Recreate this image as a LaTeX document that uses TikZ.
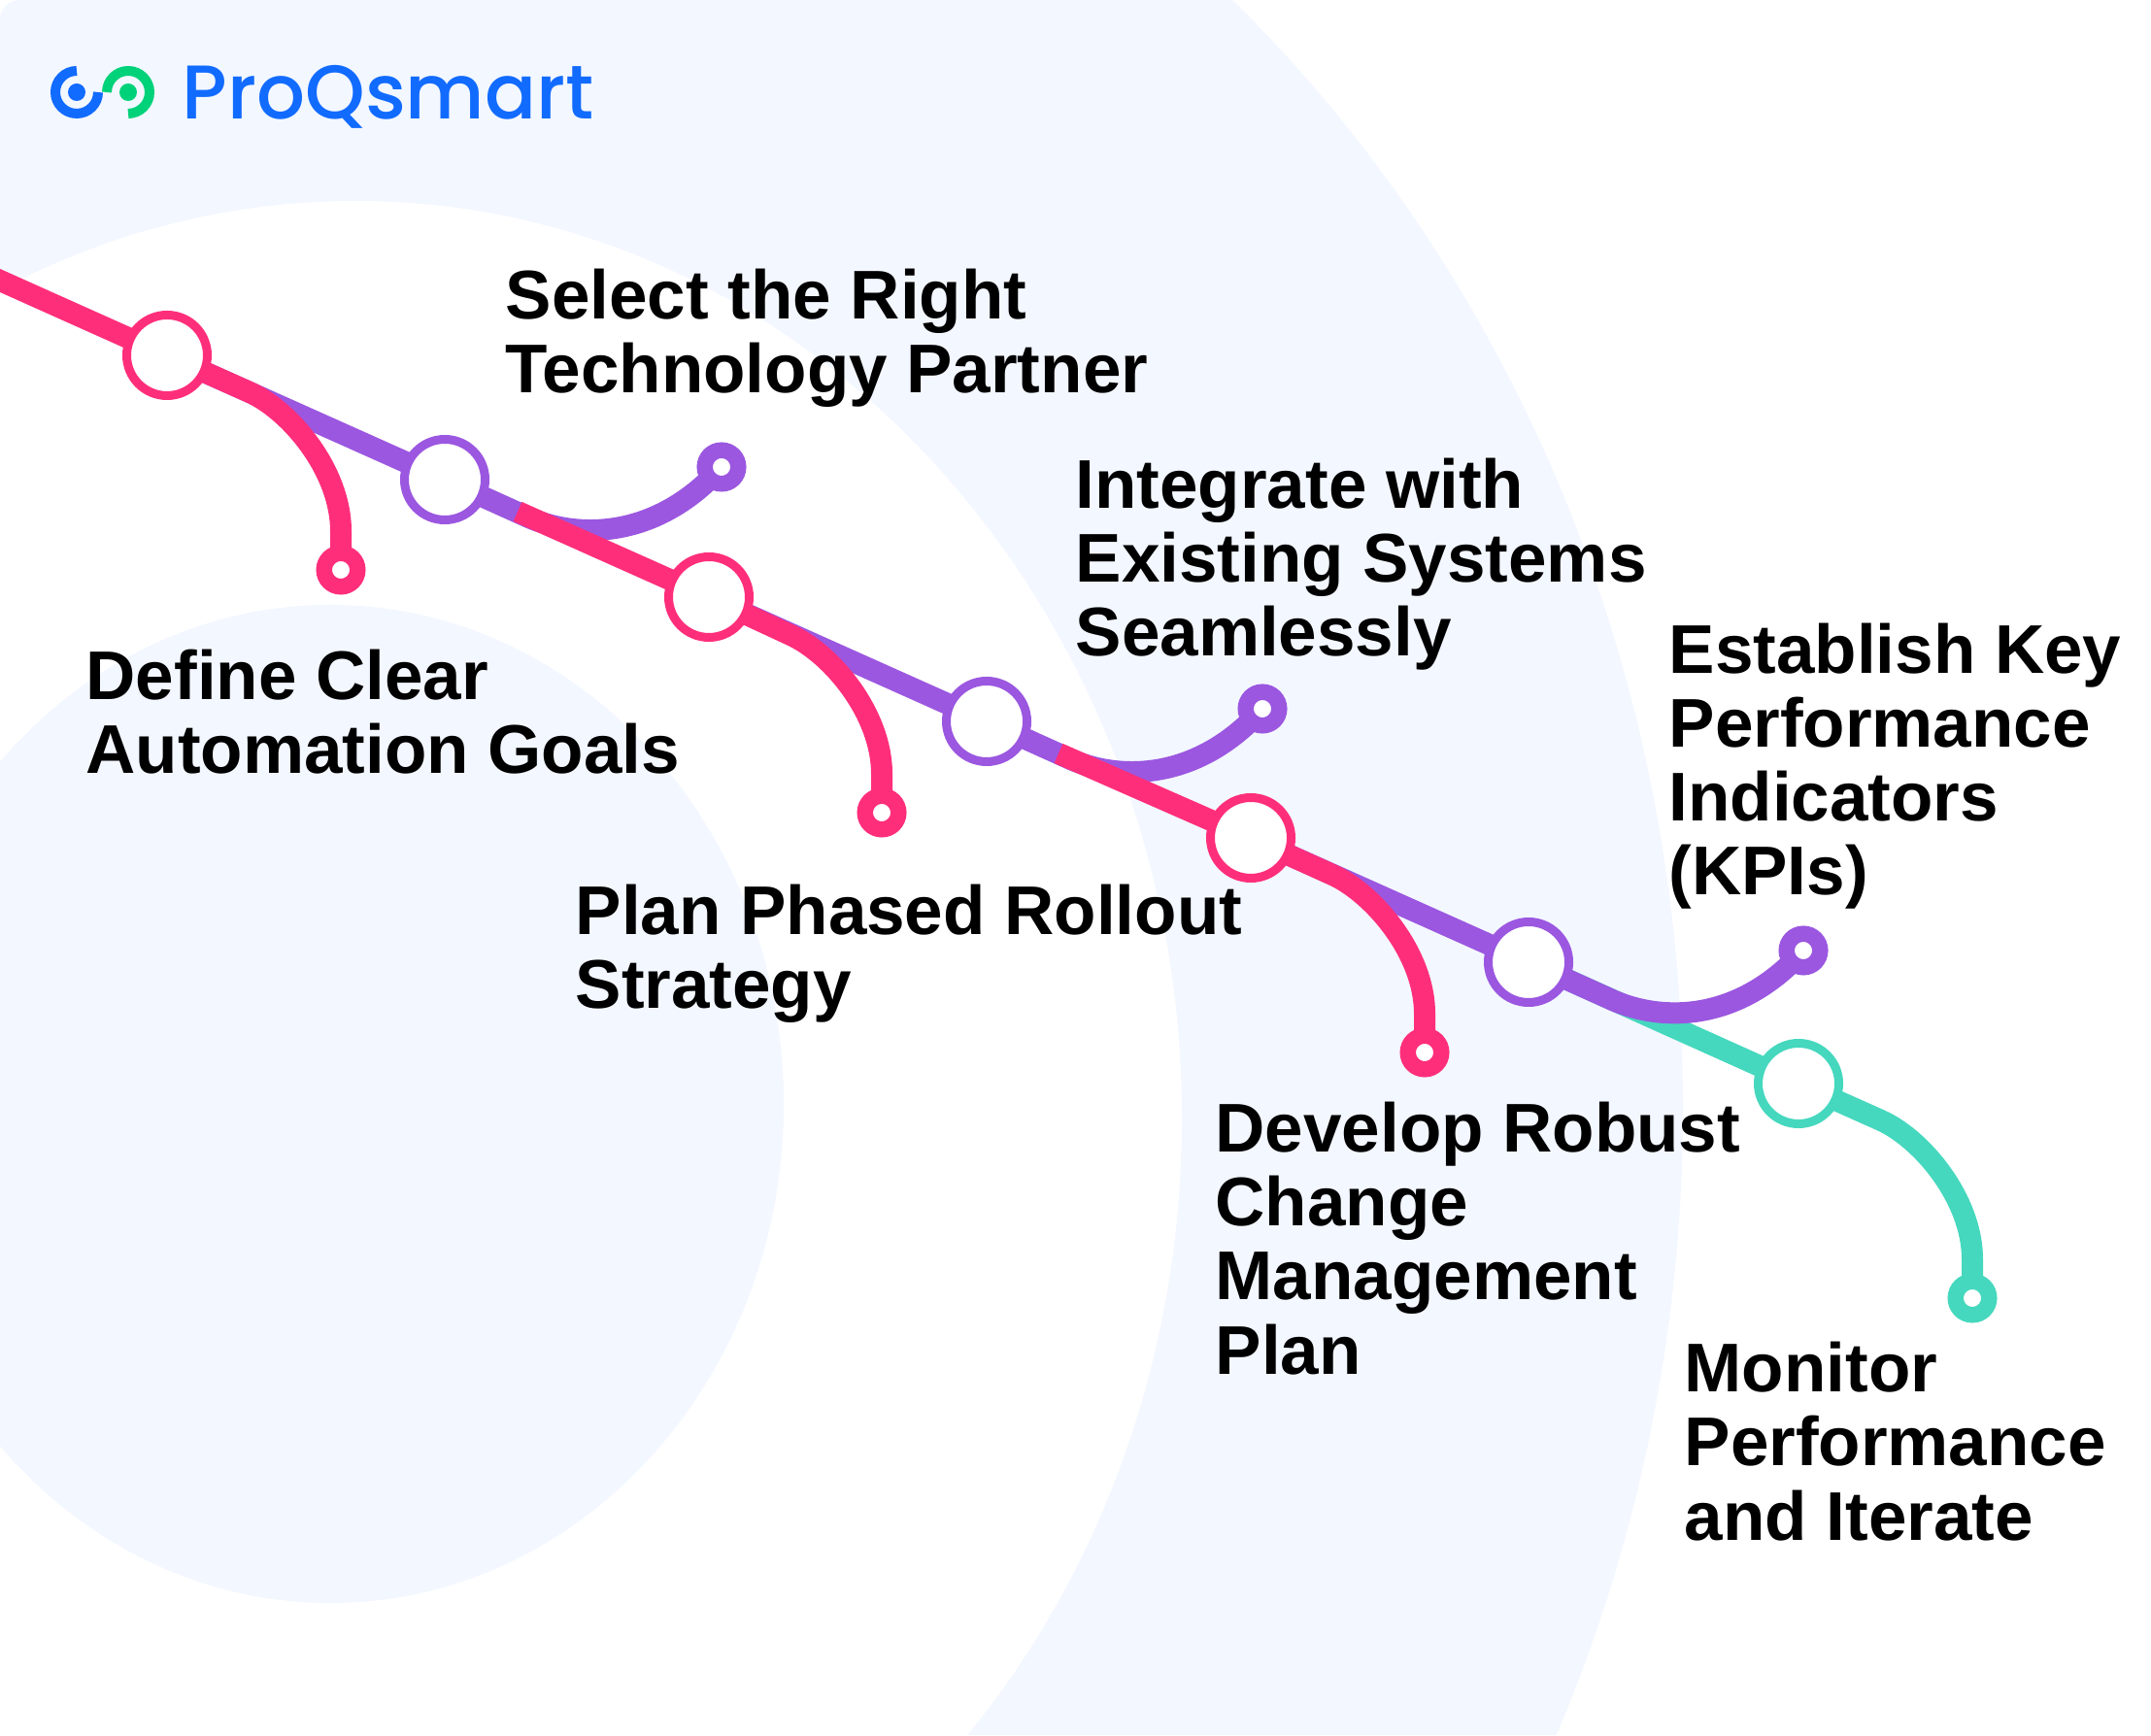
\documentclass[tikz,border=0pt]{standalone}
\usepackage{fontspec}
\setmainfont{Liberation Sans}
\newfontfamily\logofont{Poppins Medium}
\usetikzlibrary{backgrounds}
\definecolor{panelBlue}{HTML}{F3F7FF}
\definecolor{stepPink}{HTML}{FF2E7B}
\definecolor{stepPurple}{HTML}{9B57E0}
\definecolor{stepTeal}{HTML}{45D8BE}
\definecolor{logoBlue}{HTML}{116BFF}
\definecolor{logoGreen}{HTML}{00D27A}
\tikzset{
  pinkline/.style={draw=stepPink,line width=0.22cm},
  purpleline/.style={draw=stepPurple,line width=0.22cm},
  tealline/.style={draw=stepTeal,line width=0.22cm},
  stepnode/.style={circle,draw,fill=white,line width=0.09cm,minimum size=0.83cm,inner sep=0pt},
  endnode/.style={circle,draw,fill=white,line width=0.165cm,minimum size=0.345cm,inner sep=0pt},
  steplabel/.style={anchor=base west,align=left,inner sep=0pt,
    font=\bfseries\fontsize{20.2pt}{21.7pt}\selectfont},
}
\begin{document}
\begin{tikzpicture}
            \useasboundingbox (0,0) rectangle (22.15,17.87);

            % Marking the steps by circles
            \node [stepnode,draw=stepPink] (step1) at (1.72,14.21) {};%
            \node [stepnode,draw=stepPurple] (step2) at (4.58,12.93) {};%
            \node [stepnode,draw=stepPink] (step3) at (7.30,11.72) {};%
            \node [stepnode,draw=stepPurple] (step4) at (10.16,10.44) {};%
            \node [stepnode,draw=stepPink] (step5) at (12.88,9.24) {};%
            \node [stepnode,draw=stepPurple] (step6) at (15.74,7.96) {};%
            \node [stepnode,draw=stepTeal] (step7) at (18.52,6.71) {};%

            % Marking the line ends by small circles
            \node [endnode,draw=stepPink] (pend1) at (3.51,12.00) {};%
            \node [endnode,draw=stepPink] (pend2) at (9.08,9.50) {};%
            \node [endnode,draw=stepPink] (pend3) at (14.67,7.03) {};%
            \node [endnode,draw=stepTeal] (tend) at (20.31,4.50) {};%
            \node [endnode,draw=stepPurple] (vend1) at (7.43,13.06) {};%
            \node [endnode,draw=stepPurple] (vend2) at (13.00,10.57) {};%
            \node [endnode,draw=stepPurple] (vend3) at (18.57,8.08) {};%

            % Points where the lines start and bend
            \coordinate (pstart1) at (-0.20,15.07);%
            \coordinate (pstart2) at (5.33,12.60);%
            \coordinate (pstart3) at (10.90,10.11);%
            \coordinate (pbend1) at (2.57,13.83);%
            \coordinate (pbend2) at (8.14,11.33);%
            \coordinate (pbend3) at (13.72,8.86);%
            \coordinate (tbend) at (19.37,6.33);%
            \coordinate (pdown1) at (3.51,12.40);%
            \coordinate (pdown2) at (9.08,9.90);%
            \coordinate (pdown3) at (14.67,7.43);%
            \coordinate (tdown) at (20.31,4.90);%
            \coordinate (vbend1) at (5.40,12.56);%
            \coordinate (vbend2) at (10.98,10.07);%
            \coordinate (vbend3) at (16.56,7.59);%

            \begin{pgfonlayer}{background}
            % Drawing the panels behind
            \begin{scope}
            \clip [rounded corners=0.2cm] (0,0) rectangle (22.15,17.87);
            \fill [white] (0,0) rectangle (22.15,17.87);
            \fill [panelBlue] (3.40,6.47) ellipse (13.93 and 15.30);%
            \fill [white] (3.66,6.35) ellipse (8.51 and 9.45);%
            \fill [panelBlue] (3.40,6.50) ellipse (4.67 and 5.14);%
            \end{scope}

            % Drawing segments teal
            \draw [tealline] (step6.center) -- (step7.center) -- (tbend) .. controls +(0.42,-0.19) and +(0,0.62) .. (tdown) -- (tend.center);%

            % Drawing segments purple
            \draw [purpleline] (step5.center) -- (step6.center) -- (vbend3) .. controls +(0.50,-0.24) and +(-0.69,-0.77) .. (vend3.center);%
            \draw [purpleline] (step3.center) -- (step4.center) -- (vbend2) .. controls +(0.50,-0.24) and +(-0.69,-0.77) .. (vend2.center);%
            \draw [purpleline] (step1.center) -- (step2.center) -- (vbend1) .. controls +(0.50,-0.24) and +(-0.69,-0.77) .. (vend1.center);%

            % Drawing segments pink
            \draw [pinkline] (pstart1) -- (step1.center) -- (pbend1) .. controls +(0.42,-0.19) and +(0,0.62) .. (pdown1) -- (pend1.center);%
            \draw [pinkline] (pstart2) -- (step3.center) -- (pbend2) .. controls +(0.42,-0.19) and +(0,0.62) .. (pdown2) -- (pend2.center);%
            \draw [pinkline] (pstart3) -- (step5.center) -- (pbend3) .. controls +(0.42,-0.19) and +(0,0.62) .. (pdown3) -- (pend3.center);%
            \end{pgfonlayer}

            % Labels of the steps, placed by the base of their last line
            \node [steplabel] (define) at (0.88,9.90) {Define Clear\\Automation Goals};%
            \node [steplabel] (select) at (5.20,13.82) {Select the Right\\Technology Partner};%
            \node [steplabel] (plan) at (5.92,7.48) {Plan Phased Rollout\\Strategy};%
            \node [steplabel] (integrate) at (11.07,11.11) {Integrate with\\Existing Systems\\Seamlessly};%
            \node [steplabel] (develop) at (12.51,3.72) {Develop Robust\\Change\\Management\\Plan};%
            \node [steplabel] (establish) at (17.18,8.65) {Establish Key\\Performance\\Indicators\\(KPIs)};%
            \node [steplabel] (monitor) at (17.34,2.01) {Monitor\\Performance\\and Iterate};%

            % Logo
            \draw [logoBlue,line width=0.10cm] (0.79,17.14) arc (90:360:0.22);%
            \draw [logoGreen,line width=0.10cm] (1.10,16.92) arc (180:-90:0.22);%
            \node [circle,fill=logoBlue,minimum size=0.18cm,inner sep=0pt] (logodota) at (0.79,16.92) {};%
            \node [circle,fill=logoGreen,minimum size=0.18cm,inner sep=0pt] (logodotb) at (1.32,16.92) {};%
            \node [anchor=base west,inner sep=0pt,text=logoBlue,font=\logofont\fontsize{22.3pt}{24pt}\selectfont] (logo) at (1.87,16.64) {ProQsmart};%
\end{tikzpicture}
\end{document}
